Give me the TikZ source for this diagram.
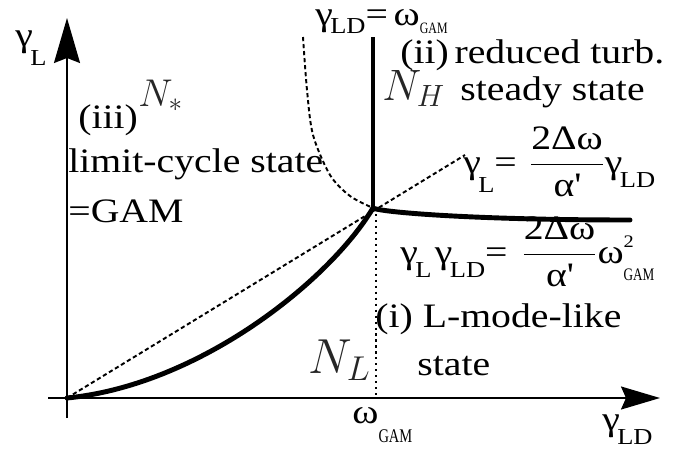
\RequirePackage{fix-cm}
\documentclass[tikz,border=0pt]{standalone}
\usepackage{amsmath}
\usepackage{fontspec}
\setmainfont{Liberation Serif}[FakeStretch=1.16]
\newfontfamily\gamfont{Liberation Serif}[FakeStretch=0.75]
\usepackage{tikz}
\usetikzlibrary{arrows.meta}
% lowered subscripts in the style of the figure
\newcommand{\gsub}[2][8pt]{\kern-1.5pt\raisebox{-#1}{\fontsize{13}{13}\selectfont #2}}
\newcommand{\gam}[2][10pt]{\raisebox{-#1}{\fontsize{#2}{#2}\selectfont\gamfont GAM}}
\newcommand{\rate}{$\dfrac{\text{2Δω}}{\text{α\textquotesingle}}$}
\tikzset{
  axis/.style  ={line width=1.1pt},
  curve/.style ={line width=2.8pt, line cap=round, line join=round},
  guide/.style ={line width=1.1pt, dash pattern=on 2.4pt off 1.6pt},
  dots/.style  ={line width=1.1pt, dash pattern=on 1.2pt off 2.2pt},
  lbl/.style   ={font=\fontsize{19.5}{23}\selectfont, inner sep=0pt, anchor=base west},
  nsym/.style  ={lbl, text=black!85}
}
\begin{document}
\begin{tikzpicture}[x=0.02cm, y=-0.02cm]
\useasboundingbox (0,0) rectangle (692,453);
%  key points
\coordinate (O)     at (67,398);
\coordinate (ytip)  at (67,18);
\coordinate (ybot)  at (67,418);
\coordinate (xtip)  at (660,398);
\coordinate (xleft) at (48,398);
\coordinate (X)     at (373,208);
\coordinate (Htop)  at (373,37);
\coordinate (Hend)  at (630,220);
\coordinate (lin)   at (465,155);
\coordinate (dtop)  at (376,214);
\coordinate (dbot)  at (376,398);

%  axes
\draw[axis, -{Stealth[length=0.9cm, width=0.52cm, inset=0.1cm]}] (ybot) -- (ytip);
\draw[axis, -{Stealth[length=0.78cm, width=0.46cm, inset=0.1cm]}] (xleft) -- (xtip);

%  guide lines
\draw[guide] (O) -- (lin);
\draw[guide] plot[smooth] coordinates {(303,37) (307,90) (313,135) (330,175) (350,196) (X)};
\draw[dots] (dtop) -- (dbot);

%  boundaries
\draw[curve] (O) .. controls (200,385) and (330,280) .. (X);
\draw[curve, line cap=butt] (X) -- (Htop);
\draw[curve] (X) .. controls (380,212) and (470,220) .. (Hend);

%  labels
\node[lbl] (yname) at (15,46)  {γ\gsub[11pt]{L}};
\node[lbl] (xname) at (602,430) {γ\gsub{LD}};
\node[lbl] (wgam)  at (352,423) {ω\gam[11pt]{11}};
\node[lbl] (vcond) at (315,25)  {γ\gsub[5pt]{LD}=\,ω\gam[5pt]{9}};

\node[lbl] (reg2)  at (400,63)  {(ii)\,reduced turb.};
\node[nsym, font=\fontsize{25}{25}\selectfont] (NH) at (382,100) {$N_H$};
\node[lbl] (reg2b) at (460,100) {steady state};
\node[lbl] (lineq) at (463,173) {γ\gsub[11pt]{L}=\kern7pt\rate γ\gsub{LD}};

\node[lbl] (reg3)  at (78,128)  {(iii)};
\node[nsym, font=\fontsize{22}{22}\selectfont] (Nstar) at (138,106) {$N_*$};
\node[lbl] (reg3b) at (68,172)  {limit-cycle state};
\node[lbl] (reg3c) at (68,222)  {=GAM};

\node[lbl] (hypeq) at (400,263)
      {γ\gsub{L}\kern2pt γ\gsub{LD}=\kern8pt\rate ω\rlap{\raisebox{9pt}{\fontsize{10}{10}\selectfont 2}}\gam{10}};
\node[lbl] (reg1)  at (375,327) {(i) L-mode-like};
\node[lbl] (reg1b) at (417,375) {state};
\node[nsym, font=\fontsize{28}{28}\selectfont] (NL) at (308,373) {$N_L$};
\end{tikzpicture}
\end{document}
